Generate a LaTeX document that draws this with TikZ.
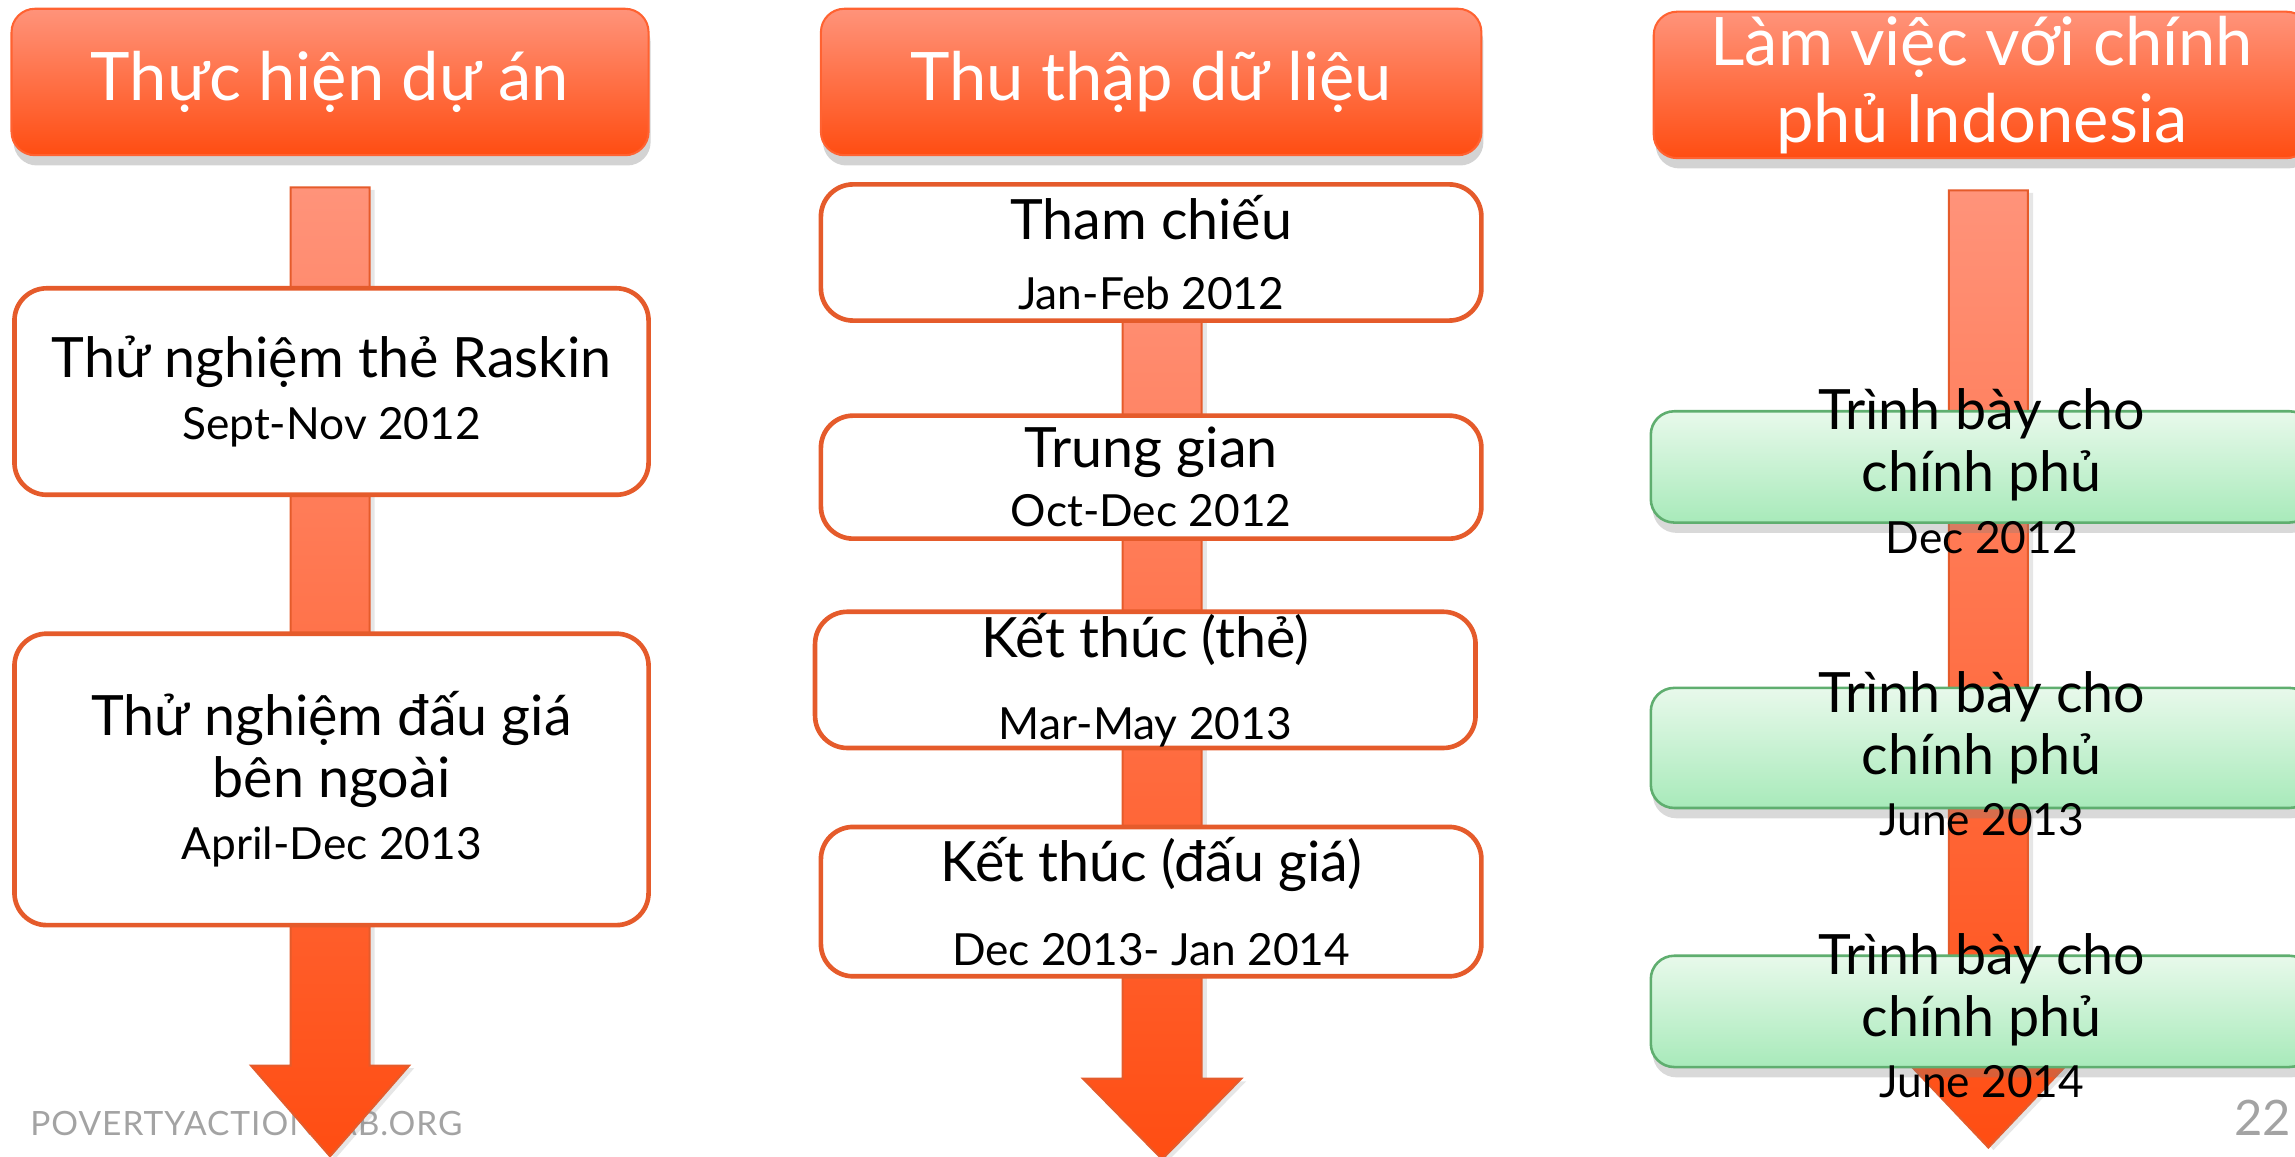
\documentclass[tikz,border=0pt]{standalone}
\usepackage{fontspec}
\setmainfont{Lato}
\usetikzlibrary{shadows}

\definecolor{salmon}{HTML}{FF937A}
\definecolor{flame}{HTML}{FF4D12}
\definecolor{rimorange}{HTML}{E55B2B}
\definecolor{mint}{HTML}{E8F9EB}
\definecolor{leaf}{HTML}{A8EABA}
\definecolor{leafrim}{HTML}{5FAE6F}
\definecolor{footgray}{HTML}{A3A3A3}

\newcommand{\headfont}{\fontsize{13}{15}\selectfont}
\newcommand{\stagefont}{\fontsize{10.8}{12}\selectfont}
\newcommand{\datefont}{\fontsize{8.6}{8.8}\selectfont}

\begin{document}
\begin{tikzpicture}[
    x=0.01cm, y=-0.01cm,
    header/.style={rectangle, rounded corners=0.16cm, minimum width=4.35cm, minimum height=1cm, inner ysep=0pt, align=center,
        top color=salmon, bottom color=flame, draw=flame!70!salmon, line width=0.4pt, text=white, font=\headfont,
        drop shadow={shadow xshift=0.4pt, shadow yshift=-2pt, opacity=0.35}},
    stage/.style={rectangle, draw=rimorange, line width=0.9pt, rounded corners=0.22cm, fill=white, inner ysep=0pt,
        minimum width=4.33cm, align=center, font=\stagefont},
    talk/.style={rectangle, rounded corners=0.16cm, draw=leafrim, line width=0.5pt, top color=mint, bottom color=leaf,
        minimum width=4.52cm, minimum height=0.76cm,
        drop shadow={shadow xshift=0.4pt, shadow yshift=-2pt, opacity=0.3}},
    talklabel/.style={align=center, font=\stagefont},
    timeline/.style={top color=salmon, bottom color=flame, draw=rimorange, line width=0.4pt,
        drop shadow={shadow xshift=1pt, shadow yshift=-0.5pt, opacity=0.2}},
    footer/.style={text=footgray, inner sep=0pt}
]
\useasboundingbox (0,0) rectangle (1568,790);
\clip (0,0) rectangle (1568,790);

% Footer
\node[footer, anchor=base west, font=\fontsize{6.5}{7}\selectfont\addfontfeatures{LetterSpace=3}] (site) at (20,776) {POVERTYACTIONLAB.ORG};
\node[footer, anchor=base east, font=\fontsize{9.5}{10}\selectfont] (page) at (1566,776) {22};

% Time arrows
\foreach \cx/\ytop/\ybase/\ytip in {225.5/128/728/790, 794/160/737/792, 1358.5/130/727/784}
    \path[timeline] (\cx-27,\ytop) -- (\cx+27,\ytop) -- (\cx+27,\ybase) -- (\cx+54,\ybase)
        -- (\cx,\ytip) -- (\cx-54,\ybase) -- (\cx-27,\ybase) -- cycle;

% Headers
\node[header] (project) at (225.5,56) {Thực hiện dự án};
\node[header, minimum width=4.51cm] (data) at (786.5,56) {Thu thập dữ liệu};
\node[header, minimum width=4.48cm] (gov) at (1354,58) {Làm việc với chính\\phủ Indonesia};

% Project stages
\node[stage, minimum height=1.41cm] (raskin) at (226.5,267.5)
    {Thử nghiệm thẻ Raskin\\ \datefont Sept-Nov 2012};
\node[stage, minimum height=1.99cm] (auction) at (226.5,532.5)
    {Thử nghiệm đấu giá\\bên ngoài\\ \datefont April-Dec 2013};

% Survey rounds
\node[stage, minimum width=4.51cm, minimum height=0.93cm] (baseline) at (786.5,172.5)
    {Tham chiếu\\[1.6pt] \datefont Jan-Feb 2012};
\node[stage, minimum width=4.51cm, minimum height=0.84cm] (midline) at (786.5,326)
    {Trung gian\\[-0.6pt] \datefont Oct-Dec 2012};
\node[stage, minimum width=4.51cm, minimum height=0.93cm] (endcard) at (782.5,464.5)
    {Kết thúc (thẻ)\\[4pt] \datefont Mar-May 2013};
\node[stage, minimum width=4.51cm, minimum height=1.02cm] (endauction) at (786.5,616)
    {Kết thúc (đấu giá)\\[4.3pt] \datefont Dec 2013- Jan 2014};

% Government presentations
\node[talk] (talk1) at (1354,319) {};
\node[talk, minimum height=0.82cm] (talk2) at (1354,511) {};
\node[talk] (talk3) at (1354,691) {};
\node[talklabel] at (1354,322) {Trình bày cho\\chính phủ\\ \datefont Dec 2012};
\node[talklabel] at (1354,515) {Trình bày cho\\chính phủ\\ \datefont June 2013};
\node[talklabel] at (1354,694) {Trình bày cho\\chính phủ\\ \datefont June 2014};

\end{tikzpicture}
\end{document}
